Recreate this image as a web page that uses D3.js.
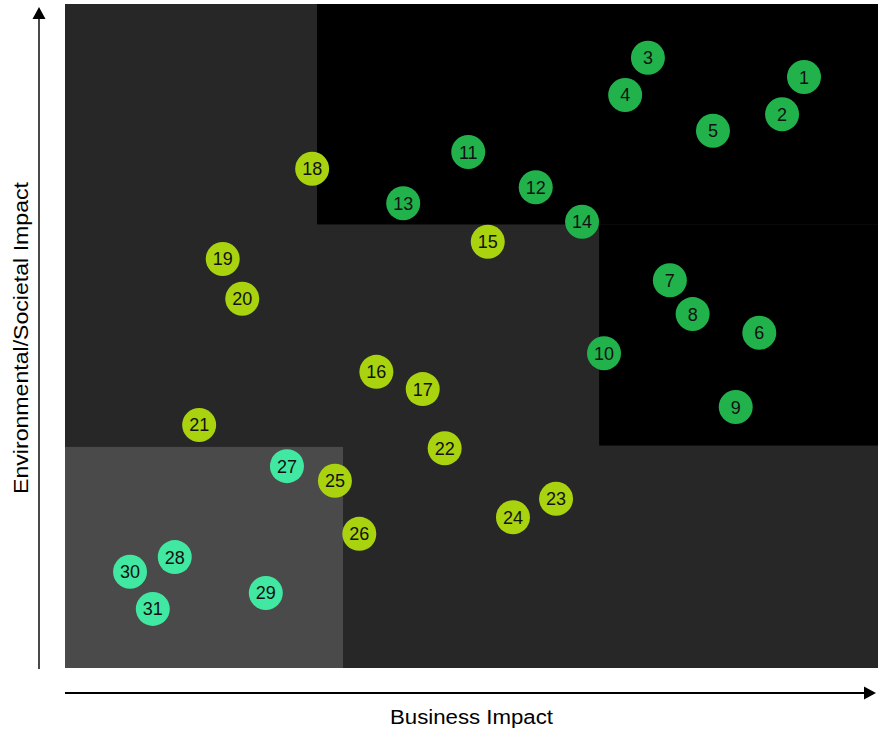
<!DOCTYPE html>
<html>
<head>
<meta charset="utf-8">
<script src="https://cdn.jsdelivr.net/npm/d3@7"></script>
<style>
  html, body { margin: 0; padding: 0; background: #ffffff; }
  svg { display: block; }
  text { font-family: "Liberation Sans", Arial, Helvetica, sans-serif; }
</style>
</head>
<body>
<svg id="chart" width="878" height="730"></svg>
<script>
// Initiative ids, their business impact (x) and environmental/societal impact (y), 0–100
const ids = [1, 2, 3, 4, 5, 6, 7, 8, 9, 10, 11, 12, 13, 14, 15, 16,
             17, 18, 19, 20, 21, 22, 23, 24, 25, 26, 27, 28, 29, 30, 31];
const businessImpact = [90.9, 88.2, 71.7, 68.9, 79.7, 85.4, 74.4, 77.2, 82.5, 66.3, 49.6,
                        57.9, 41.6, 63.6, 52.0, 38.3, 44.0, 30.4, 19.4, 21.8, 16.5, 46.7,
                        60.4, 55.1, 33.2, 36.2, 27.3, 13.5, 24.7, 8.0, 10.8];
const societalImpact = [89.0, 83.4, 91.9, 86.3, 80.9, 50.5, 58.4, 53.3, 39.3, 47.4, 77.7,
                        72.4, 70.0, 67.2, 64.2, 44.6, 42.0, 75.2, 61.6, 55.6, 36.6, 33.1,
                        25.5, 22.7, 28.2, 20.2, 30.4, 16.7, 11.3, 14.5, 8.9];
const priority = ["high", "high", "high", "high", "high", "high", "high", "high", "high", "high",
                  "high", "high", "high", "high", "medium", "medium", "medium", "medium", "medium",
                  "medium", "medium", "medium", "medium", "medium", "medium", "medium",
                  "low", "low", "low", "low", "low"];

// Background zones in data units
const zoneName = ["base", "focus", "focus", "watch"];
const zoneX0 = [0, 31.0, 65.7, 0];
const zoneX1 = [100, 100, 100, 34.2];
const zoneY0 = [0, 66.8, 33.5, 0];
const zoneY1 = [100, 100, 66.8, 33.3];

const xLabel = "Business Impact";
const yLabel = "Environmental/Societal Impact";

const margin = { top: 4, right: 0, bottom: 62, left: 65 };
const W = 878, H = 730;
const innerW = W - margin.left - margin.right;
const innerH = H - margin.top - margin.bottom;

const x = d3.scaleLinear().domain([0, 100]).range([0, innerW]);
const y = d3.scaleLinear().domain([0, 100]).range([innerH, 0]);

const zoneColor = d3.scaleOrdinal()
  .domain(["base", "focus", "watch"])
  .range(["#272727", "#000000", "#4a4a4a"]);
const dotColor = d3.scaleOrdinal()
  .domain(["high", "medium", "low"])
  .range(["#22b24c", "#a9d20f", "#41e8a2"]);

const svg = d3.select("#chart");
const g = svg.append("g").attr("transform", `translate(${margin.left},${margin.top})`);

// Zones
g.append("g").selectAll("rect")
  .data(zoneName.map((n, i) => ({ n, x0: zoneX0[i], x1: zoneX1[i], y0: zoneY0[i], y1: zoneY1[i] })))
  .join("rect")
  .attr("x", d => x(d.x0))
  .attr("y", d => y(d.y1))
  .attr("width", d => x(d.x1) - x(d.x0))
  .attr("height", d => y(d.y0) - y(d.y1))
  .attr("fill", d => zoneColor(d.n));

// Points
const pts = ids.map((id, i) => ({ id, bx: businessImpact[i], sy: societalImpact[i], p: priority[i] }));
const dot = g.append("g").selectAll("g")
  .data(pts)
  .join("g")
  .attr("transform", d => `translate(${x(d.bx)},${y(d.sy)})`);
dot.append("circle")
  .attr("r", 17)
  .attr("fill", d => dotColor(d.p));
dot.append("text")
  .attr("text-anchor", "middle")
  .attr("dy", "0.36em")
  .attr("font-size", 18)
  .attr("fill", "#111")
  .text(d => d.id);

// Axis arrows
const yAxisX = -26;
const xAxisY = innerH + 25;
const axes = g.append("g");
axes.append("line")
  .attr("x1", yAxisX).attr("x2", yAxisX)
  .attr("y1", y(0) + 1).attr("y2", y(100) + 12)
  .attr("stroke", "#4a4a4a").attr("stroke-width", 2);
axes.append("path")
  .attr("d", `M${yAxisX},${y(100) + 3} L${yAxisX - 6.5},${y(100) + 15} L${yAxisX + 6.5},${y(100) + 15} Z`)
  .attr("fill", "#000");
axes.append("line")
  .attr("x1", x(0)).attr("x2", x(100) - 12)
  .attr("y1", xAxisY).attr("y2", xAxisY)
  .attr("stroke", "#000").attr("stroke-width", 2);
axes.append("path")
  .attr("d", `M${x(100) - 2},${xAxisY} L${x(100) - 14},${xAxisY - 6.5} L${x(100) - 14},${xAxisY + 6.5} Z`)
  .attr("fill", "#000");

// Axis titles
g.append("text")
  .attr("x", innerW / 2)
  .attr("y", innerH + 56)
  .attr("text-anchor", "middle")
  .attr("font-size", 20)
  .attr("textLength", 163)
  .attr("lengthAdjust", "spacingAndGlyphs")
  .attr("fill", "#000")
  .text(xLabel);
g.append("text")
  .attr("transform", `translate(${-37},${innerH / 2 + 2}) rotate(-90)`)
  .attr("text-anchor", "middle")
  .attr("font-size", 20)
  .attr("textLength", 312)
  .attr("lengthAdjust", "spacingAndGlyphs")
  .attr("fill", "#000")
  .text(yLabel);
</script>
</body>
</html>
